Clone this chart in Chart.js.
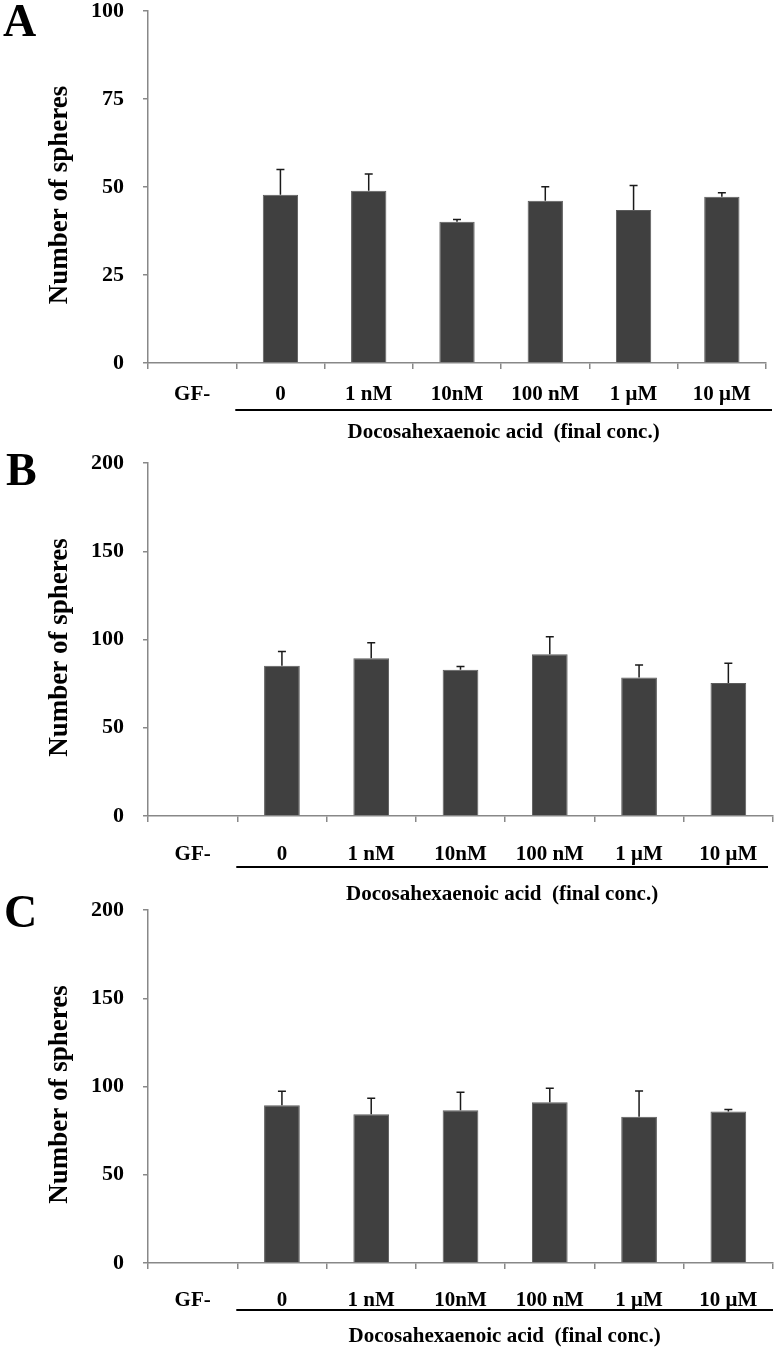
<!DOCTYPE html>
<html>
<head>
<meta charset="utf-8">
<script src="https://cdn.jsdelivr.net/npm/chart.js@4.4.0/dist/chart.umd.min.js"></script>
<style>
  body { margin: 0; background: #fff; }
  #wrap { position: relative; width: 777px; height: 1349px; }
  canvas { position: absolute; left: 0; }
</style>
</head>
<body>
<div id="wrap">
  <canvas id="chartA" width="777" height="450" style="top:0px"></canvas>
  <canvas id="chartB" width="777" height="470" style="top:440px"></canvas>
  <canvas id="chartC" width="777" height="459" style="top:890px"></canvas>
</div>
<script>
// categories shared by all three panels
const categories = ['GF-', '0', '1 nM', '10nM', '100 nM', '1 μM', '10 μM'];
const yTicksA = [0, 25, 50, 75, 100];
const yTicksBC = [0, 50, 100, 150, 200];

// panel A
const meanA = [0, 47.8, 48.9, 40.1, 46.1, 43.5, 47.2];
const errA  = [0, 7.2, 4.8, 0.7, 4.0, 6.9, 1.2];
// panel B
const meanB = [0, 85.1, 89.4, 82.8, 91.7, 78.5, 75.4];
const errB  = [0, 8.1, 8.7, 1.9, 9.8, 7.1, 11.2];
// panel C
const meanC = [0, 89.4, 84.3, 86.6, 91.1, 82.8, 85.8];
const errC  = [0, 7.9, 9.1, 10.2, 7.9, 14.7, 1.1];

const yTitle = 'Number of spheres';
const xNote = 'Docosahexaenoic acid  (final conc.)';

const serif = 'Liberation Serif, Times New Roman, serif';

function makePanel(cfg) {
    const ctx = document.getElementById(cfg.id).getContext('2d');

    // error bars, panel letter, y title, underline and note
    const extras = {
        id: 'extras' + cfg.letter,
        afterDatasetsDraw(chart) {
            const c = chart.ctx;
            const y = chart.scales.y;
            const meta = chart.getDatasetMeta(0);
            c.save();
            c.strokeStyle = '#1a1a1a';
            c.lineWidth = 1.5;
            meta.data.forEach((bar, i) => {
                if (!cfg.err[i]) return;
                const top = y.getPixelForValue(cfg.mean[i] + cfg.err[i]);
                c.beginPath();
                c.moveTo(bar.x, bar.y);
                c.lineTo(bar.x, top);
                c.moveTo(bar.x - 4, top);
                c.lineTo(bar.x + 4, top);
                c.stroke();
            });
            c.restore();
        },
        afterDraw(chart) {
            const c = chart.ctx;
            const area = chart.chartArea;
            const x = chart.scales.x;
            c.save();
            c.fillStyle = '#000';

            // panel letter
            c.font = 'bold 46px ' + serif;
            c.textAlign = 'left';
            c.textBaseline = 'alphabetic';
            c.fillText(cfg.letter, cfg.letterX, cfg.letterY);

            // y title
            c.save();
            c.translate(60, (area.top + area.bottom) / 2 + 8);
            c.rotate(-Math.PI / 2);
            c.font = 'bold 27px ' + serif;
            c.textAlign = 'center';
            c.textBaseline = 'middle';
            c.fillText(yTitle, 0, 0);
            c.restore();

            // underline under the treatment groups
            const half = (x.getPixelForValue(1) - x.getPixelForValue(0)) / 2;
            const x0 = x.getPixelForValue(1) - half - 1;
            const x1 = area.right + cfg.lineExtra;
            const ly = area.bottom + cfg.lineOffset;
            c.strokeStyle = '#000';
            c.lineWidth = 2;
            c.beginPath();
            c.moveTo(x0, ly);
            c.lineTo(x1, ly);
            c.stroke();

            c.font = 'bold 21px ' + serif;
            c.textAlign = 'center';
            c.textBaseline = 'alphabetic';
            c.fillText(xNote, (x0 + x1) / 2, area.bottom + cfg.noteOffset);
            c.restore();
        }
    };

    return new Chart(ctx, {
        type: 'bar',
        data: {
            labels: categories,
            datasets: [{
                data: cfg.mean,
                backgroundColor: '#404040',
                borderColor: '#5c5c5c',
                borderWidth: 1,
                barPercentage: 0.4,
                categoryPercentage: 1
            }]
        },
        options: {
            responsive: false,
            animation: false,
            layout: { padding: { top: cfg.top, left: 0, right: 777 - cfg.right, bottom: 0 } },
            plugins: { legend: { display: false }, tooltip: { enabled: false } },
            scales: {
                x: {
                    grid: { drawOnChartArea: false, offset: true, tickLength: 6, color: '#888', lineWidth: 1.5 },
                    border: { color: '#888', width: 1.5 },
                    ticks: {
                        color: '#000',
                        font: { family: serif, size: 21, weight: 'bold' },
                        padding: cfg.xPad,
                        maxRotation: 0,
                        autoSkip: false
                    },
                    afterFit: s => {
                        s.height = cfg.h - cfg.bottom;
                        s.paddingLeft = 0;
                        s.paddingRight = 0;
                    }
                },
                y: {
                    min: 0,
                    max: cfg.ticks[cfg.ticks.length - 1],
                    afterBuildTicks: s => { s.ticks = cfg.ticks.map(v => ({ value: v })); },
                    grid: { drawOnChartArea: false, tickLength: 5, color: '#888', lineWidth: 1.5 },
                    border: { color: '#888', width: 1.5 },
                    ticks: {
                        color: '#000',
                        font: { family: serif, size: 22, weight: 'bold' },
                        padding: 19
                    },
                    afterFit: s => {
                        s.width = cfg.left;
                        s.paddingTop = 0;
                        s.paddingBottom = 0;
                    }
                }
            }
        },
        plugins: [extras]
    });
}

makePanel({ id: 'chartA', letter: 'A', letterX: 3, letterY: 36, h: 450, top: 11, bottom: 363, left: 148, right: 766,
    mean: meanA, err: errA, ticks: yTicksA, xPad: 13, lineOffset: 47, lineExtra: 6, noteOffset: 75 });
makePanel({ id: 'chartB', letter: 'B', letterX: 6, letterY: 45, h: 470, top: 23, bottom: 376, left: 148, right: 773,
    mean: meanB, err: errB, ticks: yTicksBC, xPad: 20, lineOffset: 51, lineExtra: -5, noteOffset: 84 });
makePanel({ id: 'chartC', letter: 'C', letterX: 4, letterY: 37, h: 459, top: 20, bottom: 373, left: 148, right: 773,
    mean: meanC, err: errC, ticks: yTicksBC, xPad: 19, lineOffset: 47, lineExtra: 0, noteOffset: 79 });
</script>
</body>
</html>
